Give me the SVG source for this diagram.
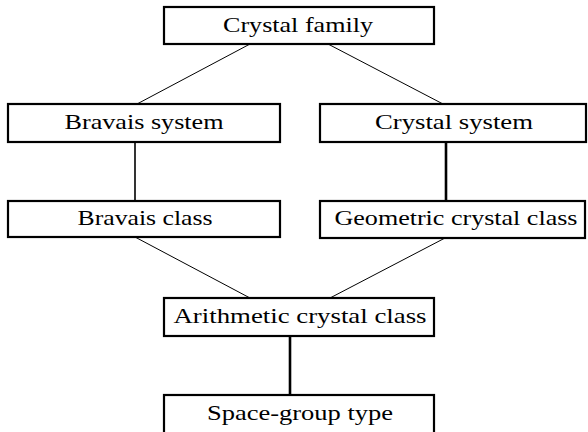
<svg xmlns="http://www.w3.org/2000/svg" width="588" height="432" viewBox="0 0 588 432">
<style>
.box{fill:#fff;stroke:#000;stroke-width:2.2}
.t{font-family:"Liberation Serif","DejaVu Serif",serif;font-size:21px;fill:#000;text-anchor:middle}
.thin{stroke:#000;stroke-width:1;fill:none}
.mid{stroke:#000;stroke-width:1.6;fill:none}
.thick{stroke:#000;stroke-width:2.6;fill:none}
</style>
<rect width="588" height="432" fill="#fff"/>
<g id="connectors">
<line class="thin" x1="250" y1="44" x2="137" y2="104"/>
<line class="thin" x1="328" y1="44" x2="443" y2="104"/>
<line class="mid" x1="135" y1="142" x2="135" y2="201"/>
<line class="thick" x1="446" y1="142" x2="446" y2="201"/>
<line class="thin" x1="135" y1="237" x2="250" y2="298"/>
<line class="thin" x1="445" y1="238" x2="330" y2="298"/>
<line class="thick" x1="290" y1="336" x2="290" y2="395"/>
</g>
<g id="crystal-family">
<rect class="box" x="164" y="7" width="270" height="37"/>
<text class="t" x="298" y="32" textLength="150" lengthAdjust="spacingAndGlyphs">Crystal family</text>
</g>
<g id="bravais-system">
<rect class="box" x="8" y="104" width="272" height="38"/>
<text class="t" x="144" y="129" textLength="159" lengthAdjust="spacingAndGlyphs">Bravais system</text>
</g>
<g id="crystal-system">
<rect class="box" x="320" y="104" width="266" height="38"/>
<text class="t" x="454" y="129" textLength="158" lengthAdjust="spacingAndGlyphs">Crystal system</text>
</g>
<g id="bravais-class">
<rect class="box" x="8" y="201" width="272" height="36"/>
<text class="t" x="145" y="225" textLength="135" lengthAdjust="spacingAndGlyphs">Bravais class</text>
</g>
<g id="geometric-crystal-class">
<rect class="box" x="320" y="201" width="265" height="37"/>
<text class="t" x="456" y="225" textLength="243" lengthAdjust="spacingAndGlyphs">Geometric crystal class</text>
</g>
<g id="arithmetic-crystal-class">
<rect class="box" x="164" y="298" width="270" height="38"/>
<text class="t" x="300" y="323" textLength="253" lengthAdjust="spacingAndGlyphs">Arithmetic crystal class</text>
</g>
<g id="space-group-type">
<rect class="box" x="164" y="395" width="270" height="40"/>
<text class="t" x="300" y="420" textLength="186" lengthAdjust="spacingAndGlyphs">Space-group type</text>
</g>
</svg>
